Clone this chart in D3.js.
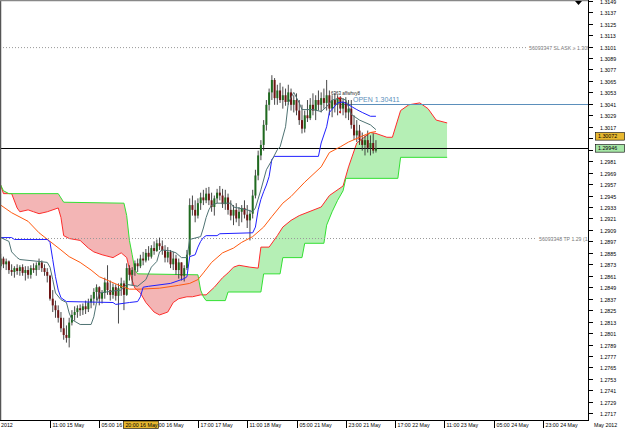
<!DOCTYPE html>
<html>
<head>
<meta charset="utf-8">
<script src="https://cdn.jsdelivr.net/npm/d3@7"></script>
<style>
  body { margin: 0; background: #fff; }
  svg { display: block; }
  text { font-family: "Liberation Sans", Arial, sans-serif; }
</style>
</head>
<body>
<script>
// hourly EURUSD bars, [open, high, low, close], bar 0 = 17:00 14 May
const ohlc = [
  [1.2871,1.2884,1.2867,1.2879],[1.2879,1.2881,1.2869,1.2873],[1.2873,1.2879,1.2867,1.2876],[1.2876,1.2877,1.2863,1.2867],
  [1.2867,1.2873,1.2861,1.2865],[1.2865,1.2871,1.2859,1.2869],[1.2869,1.2873,1.2862,1.2866],[1.2866,1.2872,1.2861,1.2870],
  [1.2870,1.2873,1.2861,1.2864],[1.2864,1.2871,1.2856,1.2867],[1.2867,1.2871,1.2858,1.2862],[1.2862,1.2872,1.2858,1.2869],
  [1.2869,1.2874,1.2864,1.2867],[1.2867,1.2875,1.2861,1.2872],[1.2872,1.2879,1.2867,1.2875],[1.2875,1.2877,1.2865,1.2869],
  [1.2869,1.2873,1.2861,1.2865],[1.2865,1.2869,1.2854,1.2861],[1.2861,1.2862,1.2835,1.2837],[1.2837,1.2846,1.2823,1.2830],
  [1.2830,1.2835,1.2817,1.2825],[1.2825,1.2830,1.2812,1.2817],[1.2817,1.2823,1.2802,1.2806],[1.2806,1.2817,1.2794,1.2799],
  [1.2799,1.2809,1.2791,1.2796],[1.2796,1.2817,1.2786,1.2812],[1.2812,1.2825,1.2809,1.2820],[1.2820,1.2829,1.2814,1.2823],
  [1.2823,1.2830,1.2817,1.2827],[1.2827,1.2831,1.2819,1.2825],[1.2825,1.2832,1.2820,1.2829],[1.2829,1.2835,1.2821,1.2826],
  [1.2826,1.2837,1.2823,1.2833],[1.2833,1.2841,1.2827,1.2837],[1.2837,1.2848,1.2830,1.2844],[1.2844,1.2852,1.2835,1.2849],
  [1.2849,1.2850,1.2830,1.2837],[1.2837,1.2846,1.2832,1.2843],[1.2843,1.2859,1.2837,1.2854],[1.2854,1.2872,1.2841,1.2846],
  [1.2846,1.2856,1.2835,1.2841],[1.2841,1.2853,1.2837,1.2849],[1.2849,1.2852,1.2835,1.2840],[1.2840,1.2853,1.2811,1.2848],
  [1.2848,1.2859,1.2840,1.2853],[1.2853,1.2856,1.2825,1.2841],[1.2841,1.2874,1.2840,1.2869],[1.2869,1.2872,1.2856,1.2862],
  [1.2862,1.2870,1.2851,1.2867],[1.2867,1.2877,1.2861,1.2874],[1.2874,1.2879,1.2865,1.2871],[1.2871,1.2883,1.2869,1.2879],
  [1.2879,1.2886,1.2872,1.2877],[1.2877,1.2889,1.2875,1.2885],[1.2885,1.2892,1.2877,1.2881],[1.2881,1.2893,1.2879,1.2890],
  [1.2890,1.2897,1.2883,1.2887],[1.2887,1.2899,1.2886,1.2895],[1.2895,1.2901,1.2888,1.2892],[1.2892,1.2898,1.2883,1.2888],
  [1.2888,1.2893,1.2875,1.2880],[1.2880,1.2891,1.2875,1.2886],[1.2886,1.2888,1.2869,1.2873],[1.2873,1.2886,1.2867,1.2879],
  [1.2879,1.2883,1.2862,1.2867],[1.2867,1.2879,1.2858,1.2875],[1.2875,1.2875,1.2856,1.2861],[1.2861,1.2872,1.2855,1.2869],
  [1.2869,1.2888,1.2867,1.2883],[1.2883,1.2942,1.2881,1.2935],[1.2935,1.2945,1.2924,1.2930],[1.2930,1.2940,1.2917,1.2924],
  [1.2924,1.2942,1.2921,1.2937],[1.2937,1.2948,1.2930,1.2943],[1.2943,1.2951,1.2935,1.2940],[1.2940,1.2953,1.2937,1.2947],
  [1.2947,1.2954,1.2935,1.2940],[1.2940,1.2948,1.2928,1.2933],[1.2933,1.2945,1.2924,1.2942],[1.2942,1.2952,1.2937,1.2948],
  [1.2948,1.2955,1.2940,1.2945],[1.2945,1.2952,1.2932,1.2936],[1.2936,1.2951,1.2930,1.2943],[1.2943,1.2947,1.2925,1.2930],
  [1.2930,1.2940,1.2919,1.2924],[1.2924,1.2935,1.2914,1.2930],[1.2930,1.2937,1.2917,1.2921],[1.2921,1.2933,1.2913,1.2928],
  [1.2928,1.2935,1.2917,1.2932],[1.2932,1.2940,1.2921,1.2925],[1.2925,1.2935,1.2911,1.2919],[1.2919,1.2930,1.2898,1.2926],
  [1.2926,1.2951,1.2921,1.2945],[1.2945,1.2972,1.2942,1.2966],[1.2966,1.2992,1.2961,1.2987],[1.2987,1.3003,1.2982,1.2998],
  [1.2998,1.3024,1.2992,1.3019],[1.3019,1.3045,1.3013,1.3040],[1.3040,1.3057,1.3034,1.3053],[1.3053,1.3071,1.3045,1.3066],
  [1.3066,1.3068,1.3040,1.3047],[1.3047,1.3061,1.3040,1.3055],[1.3055,1.3063,1.3042,1.3045],[1.3045,1.3059,1.3036,1.3050],
  [1.3050,1.3057,1.3039,1.3043],[1.3043,1.3061,1.3040,1.3053],[1.3053,1.3057,1.3034,1.3040],[1.3040,1.3050,1.3032,1.3045],
  [1.3045,1.3052,1.3029,1.3034],[1.3034,1.3045,1.3019,1.3024],[1.3024,1.3040,1.3010,1.3015],[1.3015,1.3034,1.3011,1.3029],
  [1.3029,1.3045,1.3022,1.3026],[1.3026,1.3047,1.3024,1.3040],[1.3040,1.3052,1.3029,1.3034],[1.3034,1.3050,1.3024,1.3045],
  [1.3045,1.3055,1.3034,1.3040],[1.3040,1.3053,1.3032,1.3047],[1.3047,1.3057,1.3036,1.3042],[1.3042,1.3066,1.3034,1.3050],
  [1.3050,1.3055,1.3029,1.3036],[1.3036,1.3050,1.3027,1.3045],[1.3045,1.3052,1.3032,1.3040],[1.3040,1.3050,1.3029,1.3047],
  [1.3047,1.3049,1.3031,1.3036],[1.3036,1.3047,1.3029,1.3043],[1.3043,1.3048,1.3026,1.3032],[1.3032,1.3045,1.3024,1.3036],
  [1.3036,1.3045,1.3015,1.3019],[1.3019,1.3029,1.3003,1.3008],[1.3008,1.3024,1.3001,1.3013],[1.3013,1.3019,1.2998,1.3003],
  [1.3003,1.3011,1.2992,1.2998],[1.2998,1.3008,1.2987,1.3003],[1.3003,1.3013,1.2990,1.2995],[1.2995,1.3008,1.2987,1.3000],
  [1.3000,1.3010,1.2989,1.2992],[1.2992,1.3003,1.2990,1.29946]
];

// indicator lines, [bar, price]
const tenkan = [[0,1.2901],[3,1.2897],[4,1.2886],[6,1.2880],[7,1.2878],[14,1.2876],[17,1.2875],[18,1.2870],[19,1.2857],[20,1.2843],[22,1.2836],[24,1.2833],[25,1.2822],[26,1.2815],[29,1.2810],[33,1.2810],[34,1.2818],[35,1.2833],[36,1.2843],[41,1.2845],[44,1.2846],[46,1.2852],[50,1.2850],[53,1.2857],[55,1.2870],[57,1.2876],[58,1.2886],[59,1.2888],[62,1.2887],[64,1.2885],[66,1.2880],[68,1.2880],[69,1.2899],[73,1.2902],[74,1.2911],[75,1.2922],[76,1.2930],[77,1.2935],[79,1.2937],[84,1.2937],[85,1.2933],[90,1.2930],[92,1.2928],[93,1.2932],[95,1.2951],[97,1.2972],[99,1.2982],[101,1.2993],[102,1.2996],[104,1.3017],[105,1.3042],[107,1.3053],[109,1.3042],[110,1.3035],[114,1.3035],[117,1.3033],[119,1.3038],[121,1.3045],[124,1.3047],[126,1.3045],[128,1.3030],[131,1.3024],[135,1.3019],[137,1.3014]];
const kijun = [[0,1.2901],[4,1.2901],[5,1.2899],[17,1.2899],[18,1.2896],[19,1.2878],[20,1.2860],[21,1.2846],[22,1.2838],[24,1.2834],[41,1.2833],[42,1.2831],[47,1.2833],[50,1.2834],[51,1.2839],[52,1.2849],[54,1.2850],[62,1.2853],[67,1.2858],[68,1.2860],[69,1.2881],[71,1.2883],[72,1.2891],[73,1.2897],[74,1.2901],[75,1.2903],[79,1.2903],[80,1.2905],[92,1.2906],[93,1.2912],[94,1.2930],[95,1.2941],[96,1.2949],[97,1.2956],[98,1.2965],[99,1.2983],[100,1.2986],[116,1.2986],[117,1.3000],[119,1.3017],[120,1.3032],[123,1.3042],[125,1.3043],[127,1.3040],[130,1.3035],[132,1.3032],[135,1.3028],[137,1.3028]];
const movingAvg = [[0,1.2935],[4,1.2927],[10,1.2918],[14,1.2906],[18,1.2897],[22,1.2888],[25,1.2881],[29,1.2875],[33,1.2867],[36,1.2860],[40,1.2855],[44,1.2850],[47,1.2847],[51,1.2847],[58,1.2848],[65,1.2851],[69,1.2853],[72,1.2857],[74,1.2864],[77,1.2875],[81,1.2885],[85,1.2890],[88,1.2896],[92,1.2902],[96,1.2912],[99,1.2923],[103,1.2937],[106,1.2944],[111,1.2959],[117,1.2975],[120,1.2990],[124,1.2996],[127,1.3001],[131,1.3006],[135,1.3011],[137,1.3012]];
const spanA = [[0,1.2956],[1,1.2947],[4,1.2947],[6,1.2932],[7,1.2928],[10,1.2930],[12,1.2928],[14,1.2926],[17,1.2928],[21,1.2932],[22,1.2922],[23,1.2903],[25,1.2900],[29,1.2898],[32,1.2890],[34,1.2886],[37,1.2883],[41,1.2880],[44,1.2885],[46,1.2880],[48,1.2856],[49,1.2848],[51,1.2843],[53,1.2833],[56,1.2823],[58,1.2820],[61,1.2823],[63,1.2833],[65,1.2837],[68,1.2839],[70,1.2839],[73,1.2841],[75,1.2841],[78,1.2849],[81,1.2859],[83,1.2864],[85,1.2870],[87,1.2872],[91,1.2870],[94,1.2869],[95,1.2891],[98,1.2891],[101,1.2903],[103,1.2912],[106,1.2919],[109,1.2924],[117,1.2933],[120,1.2945],[125,1.2955],[127,1.2975],[130,1.3000],[135,1.3011],[137,1.3010],[141,1.3006],[143,1.3006],[146,1.3034],[149,1.3040],[153,1.3042],[156,1.3036],[159,1.3024],[163,1.3021]];
const spanB = [[0,1.2956],[1,1.2950],[3,1.2947],[21,1.2947],[23,1.2938],[45,1.2937],[46,1.2924],[47,1.2898],[48,1.2883],[49,1.2867],[50,1.2863],[72,1.2862],[73,1.2846],[74,1.2839],[75,1.2835],[82,1.2835],[83,1.2844],[95,1.2844],[96,1.2863],[102,1.2863],[103,1.2880],[110,1.2880],[111,1.2895],[118,1.2895],[119,1.2914],[121,1.2928],[123,1.2940],[125,1.2950],[126,1.2963],[145,1.2963],[146,1.2985],[163,1.2985]];

const priceTicks = ["1.2717","1.2729","1.2741","1.2753","1.2765","1.2777","1.2789","1.2801","1.2813","1.2825","1.2837","1.2849","1.2861","1.2873","1.2885","1.2897","1.2909","1.2921","1.2933","1.2945","1.2957","1.2969","1.2981","1.2993","1.3005","1.3017","1.3029","1.3041","1.3053","1.3065","1.3077","1.3089","1.3101","1.3113","1.3125","1.3137","1.3149"];
const timeTicks = [[18,"11:00 15 May"],[36,"05:00 16 May"],[54,"23:00 16 May"],[72,"17:00 17 May"],[90,"11:00 18 May"],[108,"05:00 21 May"],[126,"23:00 21 May"],[144,"17:00 22 May"],[162,"11:00 23 May"],[180,"05:00 24 May"],[198,"23:00 24 May"]];

const openPrice = 1.30411, bidPrice = 1.29946, markPrice = 1.30072, markBar = 51;
const slPrice = 1.30999, tpPrice = 1.29;
const slText = "56093347 SL ASK \u2265 1.30999", tpText = "56093348 TP 1.29 (1.29)";

const width = 625, height = 429, plotR = 588, plotB = 420;

const x = d3.scaleLinear().domain([0, 215]).range([0.7, 0.7 + 215 * 2.739]);
const y = d3.scaleLinear().domain([1.2717, 1.3149]).range([413.3, 0.7]);

const svg = d3.select("body").append("svg")
    .attr("width", width)
    .attr("height", height);

svg.append("rect").attr("width", width).attr("height", height).attr("fill", "#fff");

const defs = svg.append("defs");
defs.append("clipPath").attr("id", "plot")
    .append("rect").attr("width", plotR).attr("height", plotB);

const lineGen = d3.line().x(d => x(d[0])).y(d => y(d[1]));

// cloud: polygon between spans, clipped above / below span A
defs.append("clipPath").attr("id", "aboveA")
    .append("path").attr("d", d3.area().x(d => x(d[0])).y0(0).y1(d => y(d[1]))(spanA));
defs.append("clipPath").attr("id", "belowA")
    .append("path").attr("d", d3.area().x(d => x(d[0])).y0(plotB).y1(d => y(d[1]))(spanA));

const plot = svg.append("g").attr("clip-path", "url(#plot)");

const cloudPath = lineGen(spanA) + "L" + lineGen(spanB.slice().reverse()).slice(1) + "Z";
plot.append("g").attr("clip-path", "url(#aboveA)")
    .append("path").attr("d", cloudPath).attr("fill", "#f3b5b5");
plot.append("g").attr("clip-path", "url(#belowA)")
    .append("path").attr("d", cloudPath).attr("fill", "#b5efb5");

plot.append("path").attr("d", lineGen(spanA)).attr("fill", "none").attr("stroke", "#ff2b2b");
plot.append("path").attr("d", lineGen(spanB)).attr("fill", "none").attr("stroke", "#33e033");

// order levels
plot.append("line").attr("x1", 0).attr("x2", 527).attr("y1", y(slPrice)).attr("y2", y(slPrice))
    .attr("stroke", "#999").attr("stroke-dasharray", "1,2");
plot.append("text").attr("x", 529).attr("y", y(slPrice) + 2).attr("font-size", 5.2).attr("fill", "#777").text(slText);
plot.append("line").attr("x1", 0).attr("x2", 537).attr("y1", y(tpPrice)).attr("y2", y(tpPrice))
    .attr("stroke", "#999").attr("stroke-dasharray", "1,2");
plot.append("text").attr("x", 539).attr("y", y(tpPrice) + 2).attr("font-size", 5.2).attr("fill", "#777").text(tpText);

plot.append("line").attr("x1", 0).attr("x2", plotR).attr("y1", Math.round(y(bidPrice)) + 0.5).attr("y2", Math.round(y(bidPrice)) + 0.5)
    .attr("stroke", "#000");
plot.append("line").attr("x1", 341).attr("x2", plotR).attr("y1", Math.round(y(openPrice)) + 0.5).attr("y2", Math.round(y(openPrice)) + 0.5)
    .attr("stroke", "#5b8fbb");

// candles
const bars = plot.append("g").selectAll("g").data(ohlc).join("g");
bars.append("line")
    .attr("x1", (d, i) => x(i)).attr("x2", (d, i) => x(i))
    .attr("y1", d => y(d[1])).attr("y2", d => y(d[2]))
    .attr("stroke", "#333").attr("stroke-width", 0.9);
bars.append("rect")
    .attr("x", (d, i) => x(i) - 1)
    .attr("y", d => y(Math.max(d[0], d[3])))
    .attr("width", 2)
    .attr("height", d => Math.max(1, Math.abs(y(d[0]) - y(d[3]))))
    .attr("fill", d => d[3] >= d[0] ? "#1f6a1f" : "#6e1414");

// indicator lines
plot.append("path").attr("d", lineGen(movingAvg)).attr("fill", "none").attr("stroke", "#ff5a10");
plot.append("path").attr("d", lineGen(kijun)).attr("fill", "none").attr("stroke", "#2020ff");
plot.append("path").attr("d", lineGen(tenkan)).attr("fill", "none").attr("stroke", "#4f7373");

// trade label and arrows
plot.append("text").attr("x", 353).attr("y", y(openPrice) - 1.5).attr("font-size", 7).attr("fill", "#5b8fbb").text("OPEN 1.30411");
plot.append("text").attr("x", 331).attr("y", 95).attr("font-size", 4.5).attr("fill", "#222").text("6363 affwhvy8");
plot.append("path").attr("d", "M337,97.5h5l-2.5,2z").attr("fill", "#e00000");
plot.append("circle").attr("cx", 340).attr("cy", 112).attr("r", 1).attr("fill", "#e00000");

// frame
svg.append("line").attr("x1", 0.5).attr("x2", 0.5).attr("y1", 0).attr("y2", plotB).attr("stroke", "#555").attr("stroke-width", 1.5);
svg.append("line").attr("x1", 0).attr("x2", plotR).attr("y1", 0.5).attr("y2", 0.5).attr("stroke", "#888").attr("stroke-width", 1.5);
svg.append("line").attr("x1", plotR + 0.5).attr("x2", plotR + 0.5).attr("y1", 0).attr("y2", plotB).attr("stroke", "#000");
svg.append("line").attr("x1", 0).attr("x2", plotR + 1).attr("y1", plotB + 0.5).attr("y2", plotB + 0.5).attr("stroke", "#000");

// price axis (labels under the marker boxes are hidden, as in the terminal)
const boxPrices = [markPrice, bidPrice];
const pa = svg.append("g").selectAll("g").data(priceTicks).join("g")
    .attr("transform", d => `translate(0,${Math.round(y(+d)) + 0.5})`);
pa.append("line").attr("x1", plotR + 1).attr("x2", plotR + 5).attr("stroke", "#000");
pa.filter(d => boxPrices.every(b => Math.abs(y(b) - y(+d)) > 6))
  .append("text").attr("x", 600).attr("y", 2).attr("font-size", 5.3).attr("fill", "#000").text(d => d);

// time axis, labels cut where the highlighted time box sits
const boxL = x(markBar) - 17, boxR = x(markBar) + 18;
const tclip = defs.append("clipPath").attr("id", "tclip");
tclip.append("rect").attr("x", 0).attr("y", plotB).attr("width", boxL).attr("height", 10);
tclip.append("rect").attr("x", boxR).attr("y", plotB).attr("width", width - boxR).attr("height", 10);

const tAxis = svg.append("g").attr("clip-path", "url(#tclip)");
tAxis.append("text").attr("x", 1).attr("y", 427).attr("font-size", 5.3).text("2012");
const ta = tAxis.selectAll("g").data(timeTicks).join("g")
    .attr("transform", d => `translate(${Math.round(x(d[0])) + 0.5},0)`);
ta.append("line").attr("y1", plotB + 1).attr("y2", 428).attr("stroke", "#000");
ta.append("text").attr("x", 2).attr("y", 427).attr("font-size", 5.3).text(d => d[1]);
svg.append("text").attr("x", 594).attr("y", 427).attr("font-size", 5.3).text("May 2012");

// highlighted labels
const tb = svg.append("g").attr("transform", `translate(${x(markBar)},0)`);
tb.append("rect").attr("x", -17).attr("y", 421).attr("width", 35).attr("height", 7.5).attr("fill", "#e8b830").attr("stroke", "#000").attr("stroke-width", 0.6);
tb.append("text").attr("x", -15).attr("y", 427).attr("font-size", 5.3).text("20:00 16 May");

const priceBox = (p, fill, label) => {
    const g = svg.append("g").attr("transform", `translate(0,${y(p)})`);
    g.append("rect").attr("x", 595.5).attr("y", -3.5).attr("width", 29).attr("height", 7.5).attr("fill", fill).attr("stroke", "#000").attr("stroke-width", 0.6);
    g.append("text").attr("x", 598).attr("y", 2).attr("font-size", 5.3).text(label);
};
priceBox(markPrice, "#e8b830", "1.30072");
priceBox(bidPrice, "#a6e6a6", "1.29946");

svg.append("path").attr("d", "M575,1h7l-3.5,4z").attr("fill", "#000");
</script>
</body>
</html>
